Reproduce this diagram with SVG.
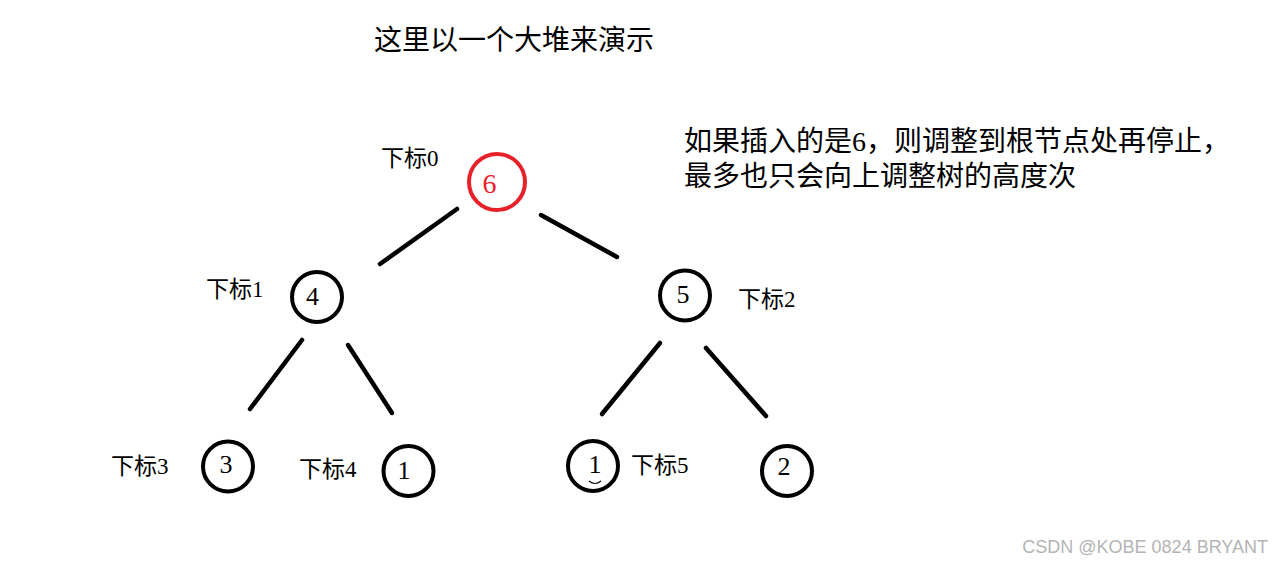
<svg xmlns="http://www.w3.org/2000/svg" width="1284" height="562" viewBox="0 0 1284 562">
<style>
.cjk{font-family:"Liberation Serif","Noto Sans CJK SC",serif;fill:#000}
.lbl{font-size:23px}
.num{font-family:"Liberation Serif",serif;font-size:26px;fill:#000;text-anchor:middle}
.ring{fill:none;stroke:#000;stroke-width:4}
.edge{stroke:#000;stroke-width:4.5;stroke-linecap:round}
</style>
<rect width="1284" height="562" fill="#fff"/>
<text class="cjk" x="374" y="50" font-size="28">这里以一个大堆来演示</text>
<text class="cjk" x="684" y="151" font-size="28">如果插入的是6，则调整到根节点处再停止，</text>
<text class="cjk" x="684" y="186" font-size="28">最多也只会向上调整树的高度次</text>
<g id="connectors">
<line class="edge" x1="457" y1="209" x2="380" y2="264"/>
<line class="edge" x1="541" y1="215" x2="617" y2="257"/>
<line class="edge" x1="302" y1="340" x2="250" y2="409"/>
<line class="edge" x1="348" y1="345" x2="392" y2="413"/>
<line class="edge" x1="660" y1="343" x2="602" y2="414"/>
<line class="edge" x1="706" y1="348" x2="766" y2="416"/>
</g>
<g id="node0">
<circle cx="497" cy="182" r="28" fill="none" stroke="#e8202a" stroke-width="4"/>
<text x="489.5" y="193" font-family="Liberation Serif,serif" font-size="28" fill="#e8202a" text-anchor="middle">6</text>
<text class="cjk lbl" x="381" y="166">下标0</text>
</g>
<g id="node1">
<circle class="ring" cx="317" cy="297" r="25"/>
<text class="num" x="312.5" y="305">4</text>
<text class="cjk lbl" x="206" y="297">下标1</text>
</g>
<g id="node2">
<circle class="ring" cx="685" cy="295.5" r="25"/>
<text class="num" x="683" y="303">5</text>
<text class="cjk lbl" x="738" y="307">下标2</text>
</g>
<g id="node3">
<circle class="ring" cx="228" cy="466.5" r="25"/>
<text class="num" x="226" y="473">3</text>
<text class="cjk lbl" x="111" y="474">下标3</text>
</g>
<g id="node4">
<circle class="ring" cx="408.5" cy="471" r="25"/>
<text class="num" x="404" y="479">1</text>
<text class="cjk lbl" x="299" y="477">下标4</text>
</g>
<g id="node5">
<circle class="ring" cx="593" cy="466" r="25"/>
<text class="num" x="595" y="473">1</text>
<path d="M589 481 Q595 486 601 481" fill="none" stroke="#000" stroke-width="1.2"/>
<text class="cjk lbl" x="631" y="473">下标5</text>
</g>
<g id="node6">
<circle class="ring" cx="787" cy="471" r="25"/>
<text class="num" x="784" y="475">2</text>
</g>
<text x="1268" y="553" font-family="Liberation Sans,Arial,sans-serif" font-size="18" fill="#b4b4b4" text-anchor="end">CSDN @KOBE 0824 BRYANT</text>
</svg>
